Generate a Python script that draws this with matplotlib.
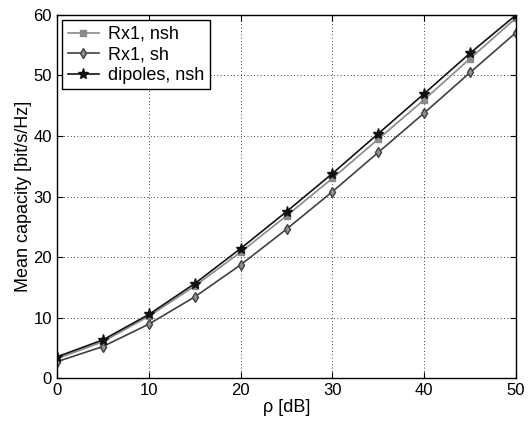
import matplotlib
matplotlib.use('Agg')
import matplotlib.pyplot as plt

plt.rcParams['font.family'] = ['Liberation Sans', 'DejaVu Sans']

rho = [0, 5, 10, 15, 20, 25, 30, 35, 40, 45, 50]
rx1_nsh = [3.2, 6.0, 10.2, 15.2, 20.8, 26.8, 33.0, 39.5, 46.0, 52.8, 59.5]
rx1_sh = [2.7, 5.2, 8.9, 13.4, 18.7, 24.6, 30.8, 37.3, 43.8, 50.5, 57.1]
dipoles_nsh = [3.5, 6.3, 10.5, 15.6, 21.4, 27.5, 33.8, 40.4, 47.0, 53.7, 60.0]

fig = plt.figure(figsize=(5.31, 4.21), dpi=100)
ax = fig.add_axes([0.1073, 0.1021, 0.8645, 0.8623])

ax.plot(rho, rx1_nsh, color='#8a8a8a', marker='s', markersize=4, lw=1.2, label='Rx1, nsh')
ax.plot(rho, rx1_sh, color='#404040', marker='d', markersize=5, lw=1.2, mfc='#909090', label='Rx1, sh')
ax.plot(rho, dipoles_nsh, color='#111111', marker='*', markersize=8, lw=1.2, label='dipoles, nsh')

ax.set_xlim(0, 50)
ax.set_ylim(0, 60)
ax.set_xticks(range(0, 51, 10))
ax.set_yticks(range(0, 61, 10))
ax.grid(True, linestyle=(0, (1, 3)), color='black', lw=0.6)
ax.tick_params(direction='in', labelsize=12, length=4, top=True, right=True)
for s in ax.spines.values():
    s.set_linewidth(1.0)

ax.set_xlabel('ρ [dB]', fontsize=13, labelpad=1)
ax.set_ylabel('Mean capacity [bit/s/Hz]', fontsize=13, labelpad=1)

leg = ax.legend(loc='upper left', fontsize=13, fancybox=False, edgecolor='black',
                framealpha=1, borderaxespad=0.3, handlelength=1.7,
                handletextpad=0.55, labelspacing=0.2, borderpad=0.3)
leg.get_frame().set_linewidth(1.0)

plt.savefig('out.png', dpi=100)
